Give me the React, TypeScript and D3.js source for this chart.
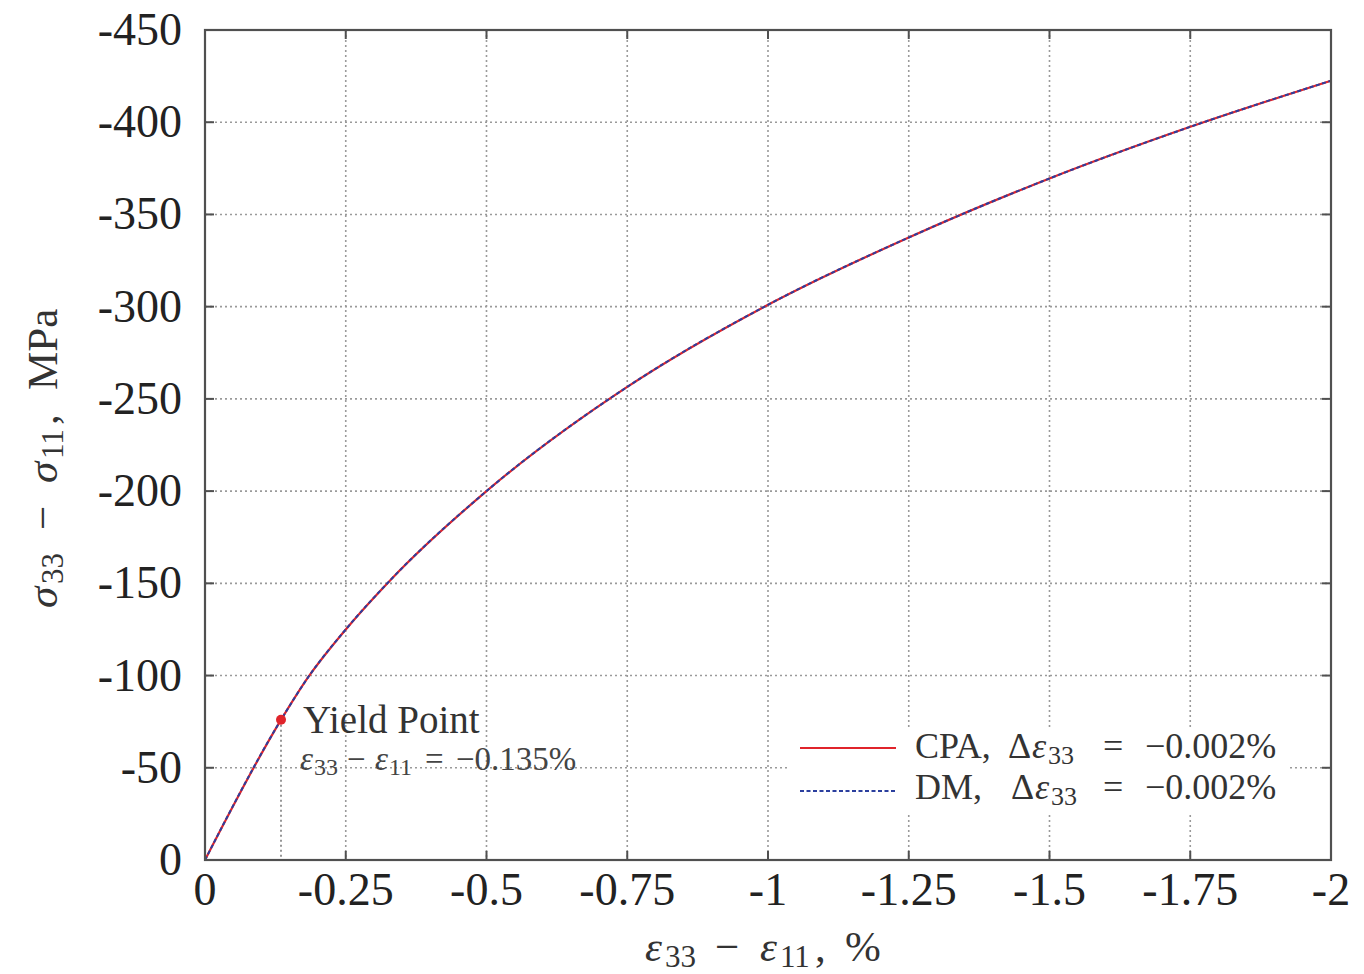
import React from "react";
import * as d3 from "d3";

// Stress–strain response (strain difference in %, stress difference in MPa)
const strain = [0, -0.135, -0.183, -0.25, -0.33, -0.5, -0.75, -1.0, -1.25, -1.5, -1.75, -2.0];
const stressCPA = [0, -76, -99, -125, -152, -200, -256.5, -301, -337.5, -369.5, -397.5, -422.5];
const stressDM = [0, -76, -99, -125, -152, -200, -256.5, -301, -337.5, -369.5, -397.5, -422.5];

const xTicks = [0, -0.25, -0.5, -0.75, -1, -1.25, -1.5, -1.75, -2];
const xTickLabels = ["0", "-0.25", "-0.5", "-0.75", "-1", "-1.25", "-1.5", "-1.75", "-2"];
const yTicks = [0, -50, -100, -150, -200, -250, -300, -350, -400, -450];
const yTickLabels = ["0", "-50", "-100", "-150", "-200", "-250", "-300", "-350", "-400", "-450"];

const yieldStrain = -0.135;
const yieldStress = -76;

const W = 1364;
const H = 974;
const m = { left: 205, right: 1331, top: 30, bottom: 860 };
const FONT = "'Liberation Serif', 'DejaVu Serif', serif";
const RED = "#e0242b";
const BLUE = "#2b3f9e";

// Math-style label built from positioned pieces (symbols, subscripts, operators)
type Piece = { t: string; x: number; sub?: boolean; it?: boolean };

function MathText({
  x0,
  y0,
  size,
  subSize,
  subDrop,
  pieces,
  fill,
  transform,
}: {
  x0: number;
  y0: number;
  size: number;
  subSize: number;
  subDrop: number;
  pieces: Piece[];
  fill: string;
  transform?: string;
}) {
  return (
    <text transform={transform} fontSize={size} fill={fill}>
      {pieces.map((p, i) => (
        <tspan
          key={i}
          x={x0 + p.x}
          y={y0 + (p.sub ? subDrop : 0)}
          fontSize={p.sub ? subSize : size}
          fontStyle={p.it ? "italic" : "normal"}
        >
          {p.t}
        </tspan>
      ))}
    </text>
  );
}

export default function App() {
  const x = d3.scaleLinear().domain([0, -2]).range([m.left, m.right]);
  const y = d3.scaleLinear().domain([0, -450]).range([m.bottom, m.top]);

  const line = d3
    .line<number>()
    .x((_, i) => x(strain[i]))
    .y((d) => y(d))
    .curve(d3.curveMonotoneX);

  const gridStyle = { stroke: "#9a9a9a", strokeWidth: 1.6, strokeDasharray: "2,3" };
  const frame = "#505050";
  const tickLen = 9;

  return (
    <svg
      width={W}
      height={H}
      style={{ position: "absolute", left: 0, top: 0, background: "#fff" }}
      fontFamily={FONT}
    >
      {/* grid */}
      {xTicks.slice(1, -1).map((t) => (
        <line key={"gx" + t} x1={x(t)} x2={x(t)} y1={m.top} y2={m.bottom} {...gridStyle} />
      ))}
      {yTicks.slice(1, -1).map((t) => (
        <line key={"gy" + t} x1={m.left} x2={m.right} y1={y(t)} y2={y(t)} {...gridStyle} />
      ))}

      {/* yield point guide */}
      <line
        x1={x(yieldStrain)}
        x2={x(yieldStrain)}
        y1={y(yieldStress)}
        y2={m.bottom}
        stroke="#8a8a8a"
        strokeWidth={1.8}
        strokeDasharray="2,3"
      />

      {/* ticks */}
      {xTicks.map((t) => (
        <g key={"tx" + t}>
          <line x1={x(t)} x2={x(t)} y1={m.bottom} y2={m.bottom - tickLen} stroke={frame} strokeWidth={2} />
          <line x1={x(t)} x2={x(t)} y1={m.top} y2={m.top + tickLen} stroke={frame} strokeWidth={2} />
        </g>
      ))}
      {yTicks.map((t) => (
        <g key={"ty" + t}>
          <line x1={m.left} x2={m.left + tickLen} y1={y(t)} y2={y(t)} stroke={frame} strokeWidth={2} />
          <line x1={m.right} x2={m.right - tickLen} y1={y(t)} y2={y(t)} stroke={frame} strokeWidth={2} />
        </g>
      ))}

      {/* tick labels */}
      {xTicks.map((t, i) => (
        <text key={"lx" + t} x={x(t)} y={905} textAnchor="middle" fontSize={46} fill="#222">
          {xTickLabels[i]}
        </text>
      ))}
      {yTicks.map((t, i) => (
        <text key={"ly" + t} x={182} y={y(t) + 15} textAnchor="end" fontSize={46} fill="#222">
          {yTickLabels[i]}
        </text>
      ))}

      {/* yield annotation */}
      <text x={303} y={733} fontSize={39} fill="#333">
        Yield Point
      </text>
      <MathText
        x0={300}
        y0={770}
        size={33}
        subSize={24}
        subDrop={5}
        fill="#444"
        pieces={[
          { t: "ε", x: 0, it: true },
          { t: "33", x: 14, sub: true },
          { t: "−", x: 47 },
          { t: "ε", x: 75, it: true },
          { t: "11", x: 89, sub: true },
          { t: "=", x: 125 },
          { t: "−0.135%", x: 156 },
        ]}
      />

      {/* legend */}
      <rect x={790} y={727} width={500} height={86} fill="#fff" />
      <line x1={800} x2={896} y1={748} y2={748} stroke={RED} strokeWidth={2} />
      <line x1={800} x2={896} y1={791} y2={791} stroke={BLUE} strokeWidth={2} strokeDasharray="4,2.5" />
      <MathText
        x0={915}
        y0={758}
        size={36}
        subSize={26}
        subDrop={6}
        fill="#333"
        pieces={[
          { t: "CPA,", x: 0 },
          { t: "Δ", x: 93 },
          { t: "ε", x: 117, it: true },
          { t: "33", x: 133, sub: true },
          { t: "=", x: 188 },
          { t: "−0.002%", x: 230 },
        ]}
      />
      <MathText
        x0={915}
        y0={799}
        size={36}
        subSize={26}
        subDrop={6}
        fill="#333"
        pieces={[
          { t: "DM,", x: 0 },
          { t: "Δ", x: 96 },
          { t: "ε", x: 120, it: true },
          { t: "33", x: 136, sub: true },
          { t: "=", x: 188 },
          { t: "−0.002%", x: 230 },
        ]}
      />

      {/* curves */}
      <path d={line(stressCPA) || ""} fill="none" stroke={RED} strokeWidth={2.2} />
      <path d={line(stressDM) || ""} fill="none" stroke={BLUE} strokeWidth={2} strokeDasharray="4,2.5" />

      {/* yield point marker */}
      <circle cx={x(yieldStrain)} cy={y(yieldStress)} r={5} fill={RED} />

      {/* frame */}
      <rect
        x={m.left}
        y={m.top}
        width={m.right - m.left}
        height={m.bottom - m.top}
        fill="none"
        stroke={frame}
        strokeWidth={2.2}
      />

      {/* axis titles */}
      <MathText
        x0={645}
        y0={961}
        size={43}
        subSize={31}
        subDrop={6}
        fill="#333"
        pieces={[
          { t: "ε", x: 0, it: true },
          { t: "33", x: 20, sub: true },
          { t: "−", x: 70 },
          { t: "ε", x: 115, it: true },
          { t: "11", x: 135, sub: true },
          { t: ",", x: 170 },
          { t: "%", x: 200 },
        ]}
      />
      <MathText
        transform="translate(57, 0) rotate(-90)"
        x0={-608}
        y0={0}
        size={43}
        subSize={31}
        subDrop={6}
        fill="#333"
        pieces={[
          { t: "σ", x: 0, it: true },
          { t: "33", x: 24, sub: true },
          { t: "−", x: 78 },
          { t: "σ", x: 125, it: true },
          { t: "11", x: 149, sub: true },
          { t: ",", x: 183 },
          { t: "MPa", x: 218 },
        ]}
      />
    </svg>
  );
}
